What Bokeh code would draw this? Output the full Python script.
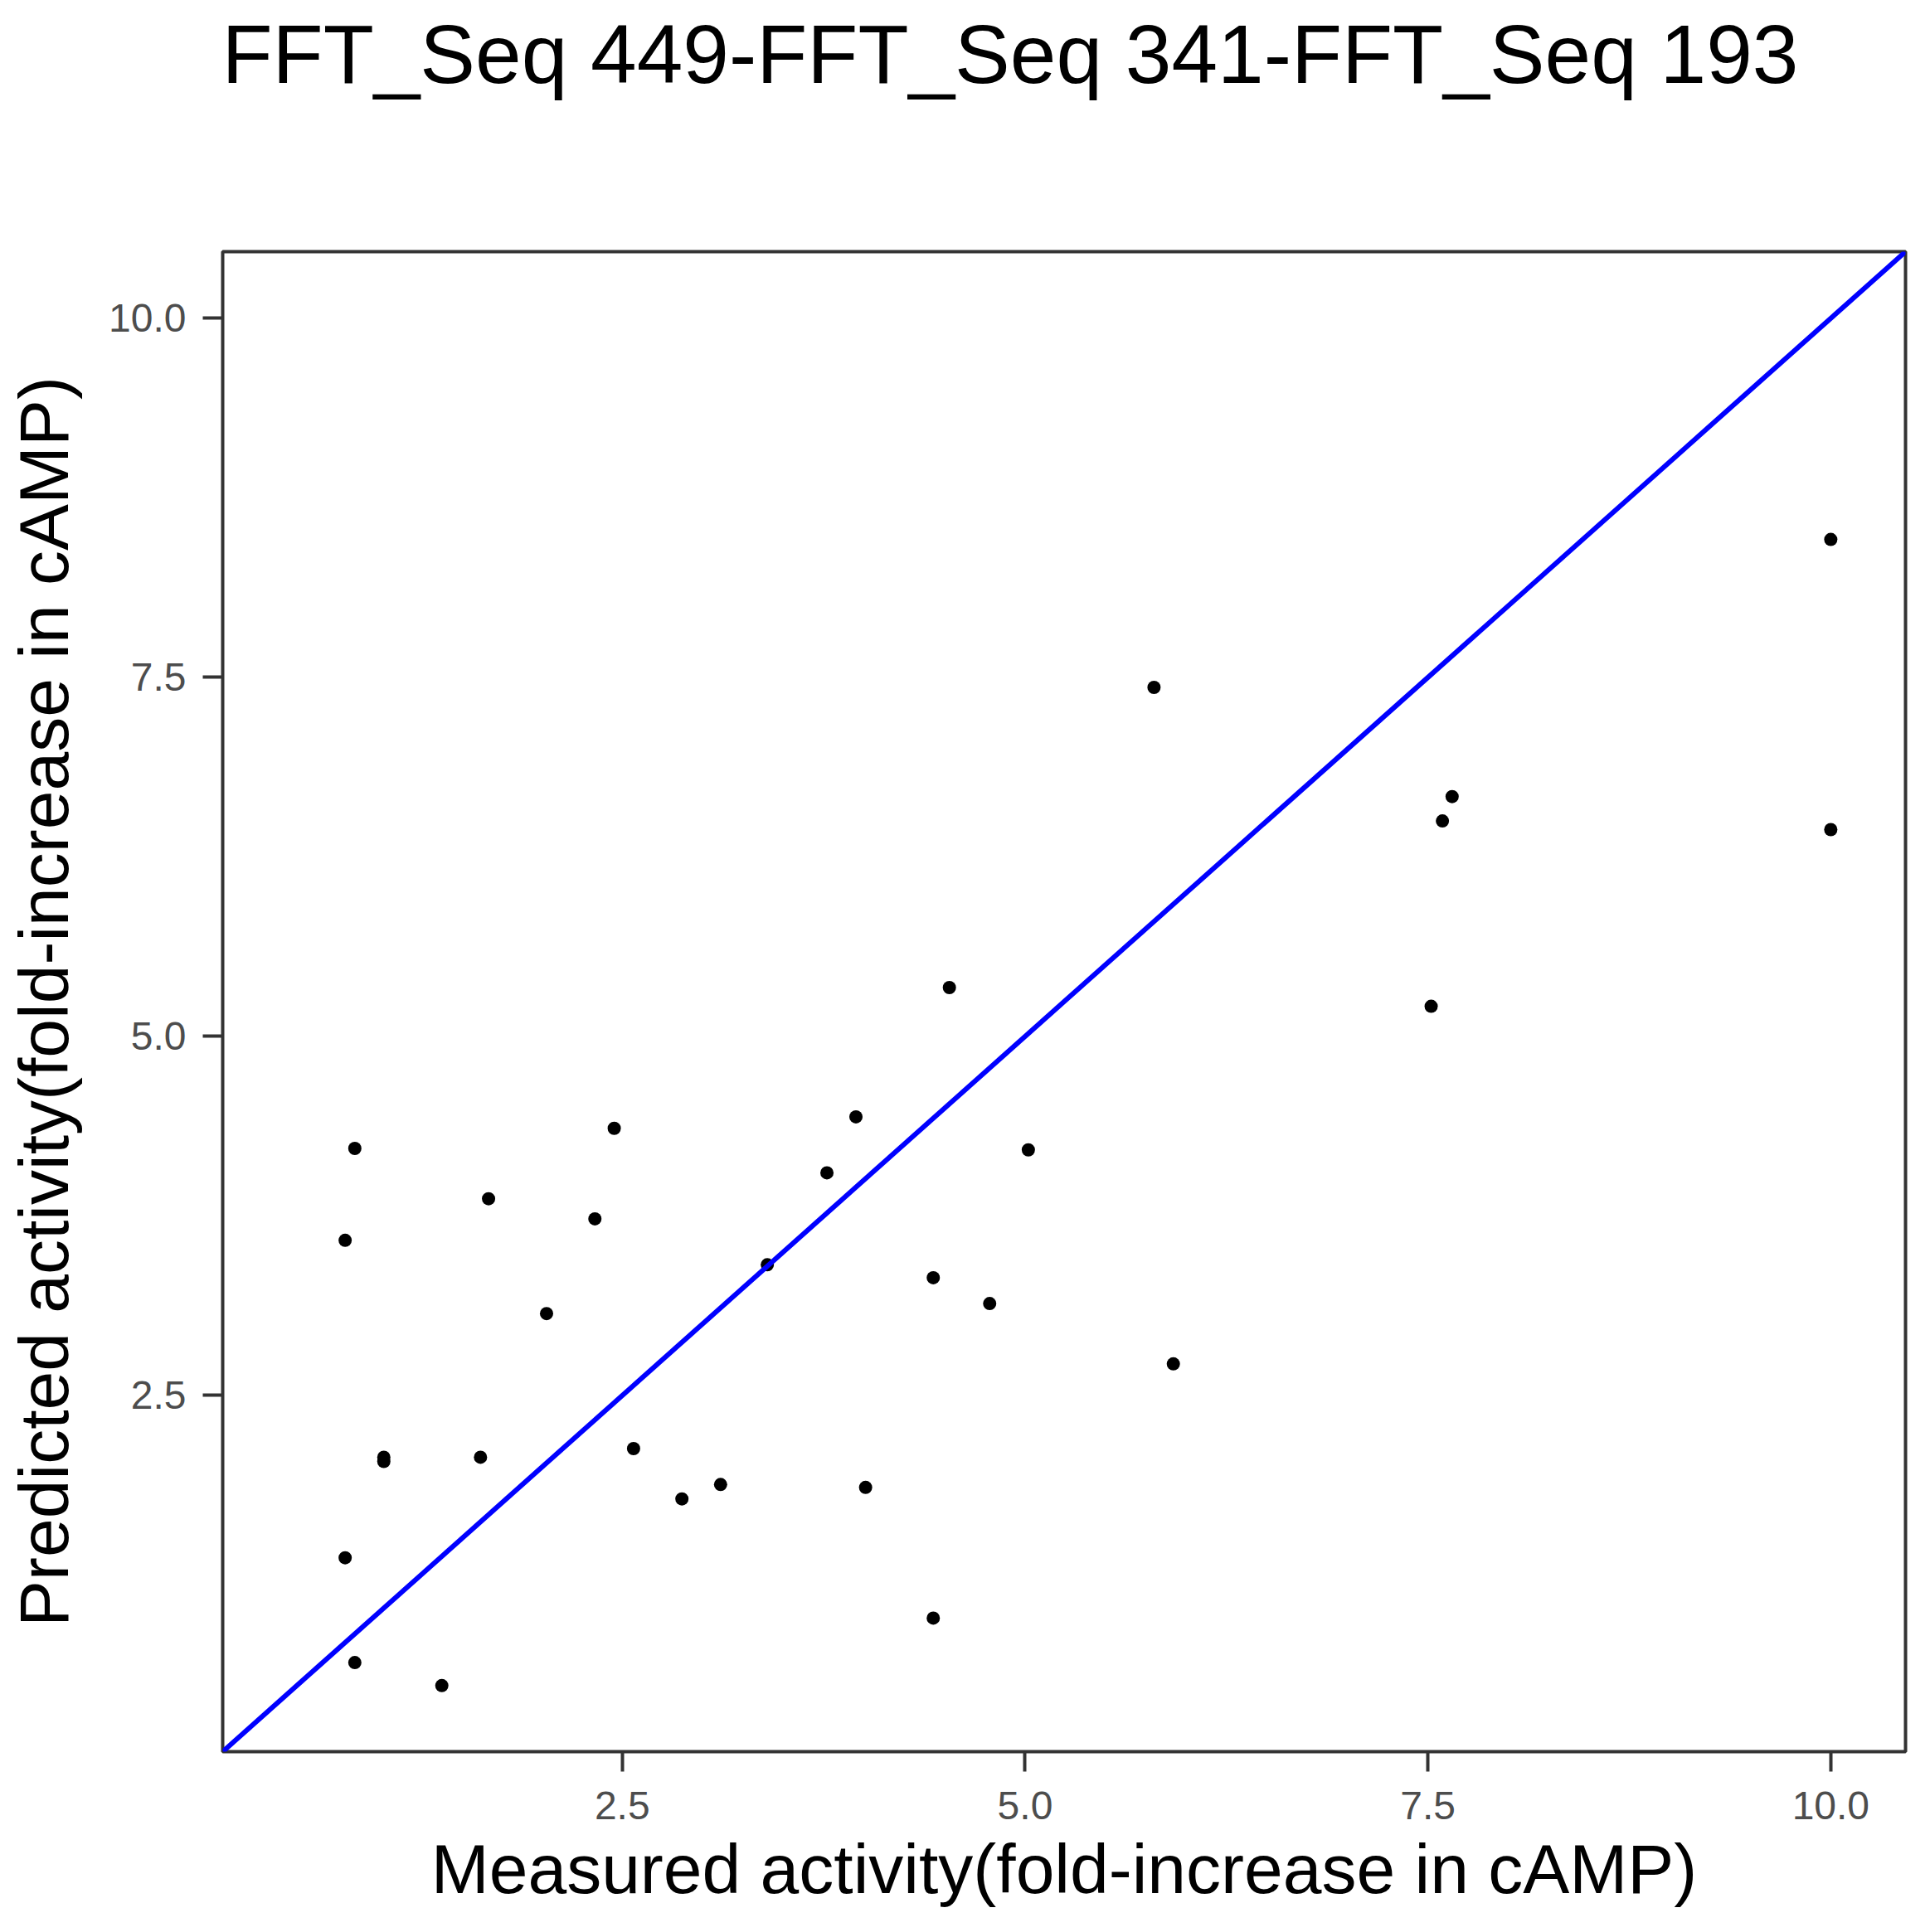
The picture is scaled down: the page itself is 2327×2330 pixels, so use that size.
from bokeh.plotting import figure
from bokeh.models import Range1d, FixedTicker, NumeralTickFormatter, Slope, Title
from bokeh.embed import file_html
from bokeh.resources import INLINE

# Data
measured = [10.0, 5.80, 7.65, 7.59, 10.0, 4.53, 7.52, 3.95, 2.45, 0.84, 5.02, 3.77,
            1.67, 2.33, 0.78, 3.40, 4.43, 4.78, 2.03, 5.92, 2.57, 1.02, 1.02, 1.62,
            3.11, 4.01, 2.87, 0.78, 4.43, 0.84, 1.38]
predicted = [8.46, 7.43, 6.67, 6.50, 6.44, 5.34, 5.21, 4.44, 4.36, 4.22, 4.21, 4.05,
             3.87, 3.73, 3.58, 3.41, 3.32, 3.14, 3.07, 2.72, 2.13, 2.07, 2.04, 2.07,
             1.88, 1.86, 1.78, 1.37, 0.95, 0.64, 0.48]
ticks = [2.5, 5.0, 7.5, 10.0]
axis_lo, axis_hi = 0.02, 10.464

title_text = "FFT_Seq 449-FFT_Seq 341-FFT_Seq 193"
xlabel = "Measured activity(fold-increase in cAMP)"
ylabel = "Predicted activity(fold-increase in cAMP)"

FONT = "Liberation Sans"

p = figure(width=2310, height=2314, output_backend="svg", toolbar_location=None,
           x_range=Range1d(axis_lo, axis_hi), y_range=Range1d(axis_lo, axis_hi),
           min_border_left=268, min_border_right=13, min_border_top=303,
           min_border_bottom=202)

p.background_fill_color = "white"
p.border_fill_color = "white"
p.outline_line_color = "#333333"
p.outline_line_width = 4
p.grid.visible = False

# blank spacer between the title and the frame (ggplot leaves a wide gap)
spacer = Title(text=" ", text_font=FONT, text_font_size="10px", standoff=170)
p.add_layout(spacer, "above")

main_title = Title(text=title_text, text_font=FONT, text_font_size="100px",
                   text_font_style="normal", text_color="black", align="left",
                   standoff=0, offset=-1)
p.add_layout(main_title, "above")

for ax in (p.xaxis[0], p.yaxis[0]):
    ax.ticker = FixedTicker(ticks=ticks)
    ax.formatter = NumeralTickFormatter(format="0.0")
    ax.axis_line_color = None
    ax.major_tick_line_color = "#333333"
    ax.major_tick_line_width = 4
    ax.major_tick_out = 24
    ax.major_tick_in = 0
    ax.minor_tick_line_color = None
    ax.major_label_text_font = FONT
    ax.major_label_text_font_size = "48px"
    ax.major_label_text_color = "#4D4D4D"
    ax.axis_label_text_font = FONT
    ax.axis_label_text_font_size = "84px"
    ax.axis_label_text_font_style = "normal"
    ax.axis_label_text_color = "black"

p.xaxis[0].axis_label = xlabel
p.yaxis[0].axis_label = ylabel
p.xaxis[0].major_label_standoff = 24
p.xaxis[0].axis_label_standoff = 10
p.yaxis[0].major_label_standoff = 20
p.yaxis[0].axis_label_standoff = 28

p.add_layout(Slope(gradient=1, y_intercept=0, line_color="#0000FF", line_width=6))
p.scatter(measured, predicted, size=16, color="black", line_color=None)

open("out.html", "w").write(file_html(p, INLINE))
